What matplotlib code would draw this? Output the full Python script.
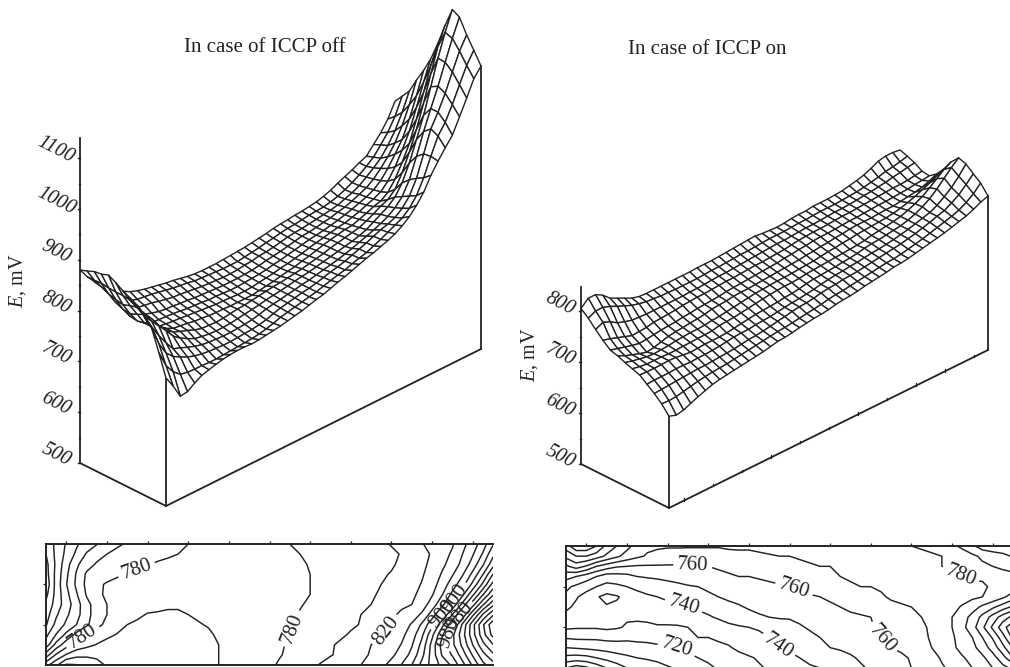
# -*- coding: utf-8 -*-
"""Potential surface E(x, y) with ICCP off / on: wire surface above, contour map below."""

import matplotlib
matplotlib.use("Agg")
import matplotlib.pyplot as plt
import numpy as np
from matplotlib.collections import PolyCollection

plt.rcParams["font.family"] = ["Liberation Serif", "DejaVu Serif"]
plt.rcParams["mathtext.fontset"] = "custom"
plt.rcParams["mathtext.it"] = "Liberation Serif:italic"
plt.rcParams["mathtext.rm"] = "Liberation Serif"

INK = "#222222"

# E, mV, on a 1/4 unit grid (45 x 13). Rows run from the far side (top of the map) to the near side.
e_off = [
    [895, 875, 858, 843, 830, 821, 811, 803, 798, 794, 791, 788, 785, 783, 780, 777, 775, 774, 774, 774, 775, 776, 777, 778, 780, 782, 784, 787, 789, 790, 792, 793, 795, 797, 801, 806, 813, 819, 825, 832, 838, 854, 870, 890, 918],
    [900, 875, 855, 836, 818, 807, 800, 795, 793, 791, 788, 785, 782, 780, 778, 775, 774, 773, 772, 771, 771, 771, 773, 775, 777, 780, 782, 785, 787, 788, 790, 792, 793, 794, 797, 801, 807, 814, 822, 832, 843, 860, 878, 902, 935],
    [906, 876, 848, 824, 808, 798, 793, 790, 788, 784, 781, 778, 777, 775, 773, 771, 770, 769, 768, 768, 769, 771, 772, 775, 776, 778, 781, 784, 786, 787, 789, 791, 793, 795, 798, 803, 808, 815, 825, 836, 848, 866, 888, 917, 952],
    [908, 874, 844, 818, 797, 792, 787, 782, 778, 776, 775, 773, 772, 770, 769, 768, 767, 766, 766, 766, 767, 768, 770, 773, 775, 777, 780, 783, 786, 787, 789, 792, 794, 798, 801, 806, 812, 818, 828, 842, 858, 878, 905, 939, 981],
    [913, 873, 841, 816, 795, 784, 778, 776, 775, 774, 772, 770, 769, 768, 766, 766, 765, 764, 764, 765, 766, 767, 769, 772, 774, 777, 780, 783, 786, 788, 790, 793, 796, 800, 804, 809, 814, 821, 832, 849, 870, 892, 925, 964, 1007],
    [905, 873, 846, 822, 798, 784, 777, 775, 773, 772, 770, 769, 767, 766, 764, 764, 763, 762, 762, 763, 765, 767, 769, 772, 774, 777, 780, 784, 787, 790, 793, 796, 798, 802, 806, 812, 817, 824, 838, 859, 885, 915, 955, 998, 1037],
    [896, 871, 850, 829, 806, 791, 780, 773, 771, 769, 766, 765, 763, 762, 762, 761, 761, 761, 761, 763, 765, 767, 770, 773, 775, 779, 782, 786, 790, 793, 796, 799, 800, 805, 810, 816, 820, 830, 849, 875, 905, 946, 992, 1037, 1075],
    [889, 863, 844, 827, 807, 790, 780, 774, 769, 763, 759, 758, 757, 758, 760, 762, 763, 765, 767, 769, 771, 772, 774, 776, 778, 781, 784, 787, 791, 794, 797, 800, 803, 809, 816, 824, 830, 843, 869, 902, 940, 985, 1035, 1082, 1117],
    [882, 854, 836, 820, 804, 786, 775, 767, 760, 757, 755, 754, 754, 755, 757, 759, 761, 763, 766, 768, 770, 772, 775, 777, 779, 782, 785, 788, 791, 794, 797, 801, 806, 814, 822, 830, 842, 863, 895, 934, 975, 1024, 1073, 1117, 1155],
    [865, 839, 815, 794, 775, 770, 764, 759, 755, 753, 752, 751, 751, 752, 753, 755, 758, 762, 765, 767, 770, 772, 775, 777, 780, 783, 786, 789, 793, 797, 802, 807, 812, 818, 825, 835, 850, 876, 915, 957, 995, 1032, 1072, 1112, 1147],
    [851, 813, 788, 774, 766, 759, 754, 751, 749, 748, 747, 747, 748, 749, 750, 752, 755, 760, 764, 767, 770, 773, 775, 778, 782, 786, 789, 793, 798, 803, 808, 814, 820, 824, 830, 841, 858, 886, 927, 969, 995, 1025, 1060, 1094, 1119],
    [810, 777, 758, 746, 743, 742, 742, 741, 741, 742, 743, 744, 745, 746, 748, 751, 755, 760, 763, 766, 769, 772, 775, 779, 783, 787, 790, 795, 799, 803, 809, 815, 822, 829, 836, 848, 866, 894, 929, 962, 982, 1010, 1042, 1073, 1096],
    [767, 744, 717, 719, 729, 737, 741, 745, 748, 750, 751, 751, 750, 751, 753, 755, 757, 760, 763, 766, 770, 774, 777, 782, 787, 791, 796, 801, 806, 810, 815, 820, 826, 835, 846, 861, 880, 906, 927, 946, 964, 993, 1023, 1054, 1072],
]

e_on = [
    [805, 818, 818, 810, 797, 790, 783, 776, 772, 771, 771, 771, 771, 771, 771, 771, 772, 772, 772, 773, 774, 775, 776, 777, 778, 776, 775, 774, 775, 777, 778, 778, 780, 780, 780, 781, 782, 785, 788, 792, 798, 805, 808, 808, 806],
    [793, 800, 800, 795, 788, 782, 776, 772, 769, 768, 766, 766, 765, 765, 765, 765, 766, 767, 767, 768, 769, 770, 770, 771, 772, 773, 773, 773, 774, 775, 775, 776, 777, 777, 777, 778, 779, 780, 782, 785, 788, 792, 794, 797, 801],
    [778, 785, 779, 770, 765, 761, 760, 759, 759, 759, 759, 759, 759, 760, 760, 761, 762, 763, 763, 764, 765, 766, 767, 768, 769, 770, 770, 771, 772, 773, 773, 774, 775, 776, 776, 777, 778, 780, 781, 783, 785, 788, 790, 793, 795],
    [764, 760, 755, 750, 745, 746, 747, 750, 751, 752, 753, 755, 756, 757, 757, 758, 759, 760, 760, 761, 762, 763, 763, 764, 765, 766, 768, 770, 771, 772, 772, 773, 774, 775, 775, 776, 777, 778, 779, 780, 781, 781, 782, 784, 786],
    [752, 748, 744, 740, 737, 738, 740, 742, 743, 744, 746, 747, 749, 750, 751, 752, 754, 755, 756, 757, 758, 759, 760, 761, 763, 764, 766, 767, 769, 770, 770, 771, 772, 773, 773, 774, 775, 776, 776, 777, 778, 779, 781, 782, 784],
    [748, 741, 736, 731, 727, 729, 733, 737, 739, 740, 742, 743, 745, 748, 749, 750, 752, 753, 753, 754, 755, 756, 757, 758, 759, 760, 762, 763, 765, 766, 768, 769, 771, 772, 772, 772, 773, 774, 774, 776, 778, 780, 783, 788, 795],
    [742, 738, 735, 732, 731, 732, 733, 735, 736, 737, 737, 738, 740, 741, 743, 745, 747, 749, 751, 752, 753, 754, 754, 755, 756, 757, 758, 760, 762, 763, 765, 766, 768, 769, 770, 771, 772, 774, 777, 781, 786, 792, 798, 805, 812],
    [737, 734, 732, 732, 732, 731, 731, 732, 732, 733, 733, 734, 737, 738, 739, 741, 743, 745, 747, 749, 750, 751, 751, 752, 754, 755, 756, 757, 758, 759, 760, 761, 763, 766, 768, 770, 772, 775, 780, 786, 793, 803, 814, 825, 833],
    [732, 731, 731, 731, 732, 731, 729, 727, 728, 729, 729, 729, 730, 732, 734, 736, 738, 739, 740, 741, 743, 744, 746, 749, 751, 752, 753, 754, 756, 757, 759, 762, 764, 765, 767, 769, 771, 775, 780, 787, 796, 808, 822, 836, 848],
    [721, 722, 722, 722, 723, 723, 722, 723, 723, 724, 725, 727, 729, 730, 730, 732, 733, 734, 736, 738, 740, 741, 743, 745, 748, 750, 752, 753, 755, 756, 758, 760, 761, 763, 765, 768, 771, 775, 779, 783, 790, 800, 811, 826, 843],
    [710, 711, 712, 713, 714, 715, 716, 716, 717, 718, 719, 720, 722, 724, 725, 727, 729, 732, 734, 737, 739, 740, 742, 745, 747, 748, 750, 751, 752, 754, 756, 758, 760, 762, 764, 767, 770, 774, 778, 783, 787, 795, 804, 817, 831],
    [697, 696, 697, 700, 703, 706, 708, 710, 711, 712, 714, 716, 718, 720, 722, 724, 726, 727, 729, 731, 733, 735, 737, 740, 742, 743, 745, 747, 749, 751, 753, 755, 756, 758, 761, 764, 767, 771, 775, 779, 783, 788, 796, 806, 820],
    [680, 675, 678, 684, 690, 695, 700, 703, 705, 707, 709, 711, 713, 715, 718, 721, 722, 724, 727, 729, 731, 732, 734, 737, 739, 740, 742, 745, 747, 749, 751, 754, 755, 757, 760, 763, 766, 769, 772, 776, 780, 784, 790, 797, 802],
]

ticks_off = [500, 600, 700, 800, 900, 1000, 1100]
minor_off = [550, 650, 750, 850, 950, 1050]
ticks_on = [500, 600, 700, 800]
minor_on = [550, 650, 750]

levels_off = list(range(700, 1180, 20))
levels_on = list(range(670, 860, 10))
shown_off = [780, 820, 860, 900, 940, 980]
shown_on = [720, 740, 760, 780]

# where the map labels sit, in map units (x from the left, y from the top)
anchors_off = [(2.2, 0.55), (0.83, 2.22), (6.13, 2.12), (8.43, 2.18), (9.7, 1.68), (10.1, 1.4), (10.1, 2.3), (10.5, 2.35)]
anchors_on = [(3.1, 0.6), (5.63, 1.0), (7.8, 2.25), (2.9, 1.45), (5.23, 2.45), (2.73, 2.5), (9.77, 0.6)]

OFF_PANEL = dict(x0=80, y0=463, ux=315, uy=-157, vx=86, vy=43, zs=0.508, surf0=515, top=1140)
ON_PANEL = dict(x0=581, y0=464, ux=319, uy=-158, vx=88, vy=44, zs=0.51, surf0=500, top=847)


def project(p, col, row, e, e0):
    """Oblique view: col 0..44 along the length, row 0..12 from far to near."""
    col, row, e = np.asarray(col, float), np.asarray(row, float), np.asarray(e, float)
    x = p["x0"] + col / 44 * p["ux"] + row / 12 * p["vx"]
    y = p["y0"] + col / 44 * p["uy"] + row / 12 * p["vy"] - p["zs"] * (e - e0)
    return x, y


def draw_surface(ax, p, table):
    z = np.array(table, float)
    nr, nc = z.shape
    cc, rr = np.meshgrid(np.arange(nc), np.arange(nr))
    px, py = project(p, cc, rr, z, p["surf0"])

    # box behind the mesh
    bx, by = project(p, [0, 0, 44], [0, 12, 12], [500, 500, 500], 500)
    ax.plot(bx, by, color=INK, lw=1.3, zorder=1)
    ax.plot(*project(p, [0, 0], [0, 0], [500, p["top"]], 500), color=INK, lw=1.3, zorder=1)
    for col in (0, 44):
        sx, sy = project(p, [col], [12], [z[12, col]], p["surf0"])
        fx, fy = project(p, [col], [12], [500], 500)
        ax.plot([fx[0], sx[0]], [fy[0], sy[0]], color=INK, lw=1.3, zorder=1)

    # far cells first so the nearer ones hide them
    polys = []
    for r in range(nr - 1):
        for c in range(nc - 2, -1, -1):
            polys.append([
                (px[r, c], py[r, c]),
                (px[r, c + 1], py[r, c + 1]),
                (px[r + 1, c + 1], py[r + 1, c + 1]),
                (px[r + 1, c], py[r + 1, c]),
            ])
    ax.add_collection(PolyCollection(polys, facecolors="white", edgecolors=INK, linewidths=1.0, zorder=2))


def draw_z_axis(ax, p, ticks, minor, dx, dy):
    for v in ticks + minor:
        x, y = project(p, [0], [0], [v], 500)
        size = 2.5 if v in ticks else 1.5
        ax.plot([x[0] - size, x[0]], [y[0], y[0]], color=INK, lw=1.0, zorder=1)
    for v in ticks:
        x, y = project(p, [0], [0], [v], 500)
        ax.text(x[0] + dx, y[0] + dy, str(v), rotation=-27, style="italic", fontsize=14.5,
                color=INK, ha="center", va="center")


def draw_map(fig, box, table, levels, shown, anchors, draw_bottom):
    left, top, width, height = box
    ax = fig.add_axes([left / 1010, (667 - top - height) / 667, width / 1010, height / 667])
    z = np.array(table, float)
    xs = np.arange(z.shape[1]) / 4
    ys = 3 - np.arange(z.shape[0]) / 4
    plain = [v for v in levels if v not in shown]
    ax.contour(xs, ys, z, levels=plain, colors=INK, linewidths=1.05)
    cs = ax.contour(xs, ys, z, levels=shown, colors=INK, linewidths=1.05)
    # manual clabel with a level subset trips over an index in matplotlib, so the labelled
    # levels get their own contour set
    ax.clabel(cs, fmt="%d", fontsize=15, inline=True, inline_spacing=4,
              manual=[(x, 3 - y) for x, y in anchors])
    ax.set_xlim(0, 11)
    ax.set_ylim(0, 3)
    ax.set_xticks(np.arange(0.5, 11, 1))
    ax.set_yticks([1, 2])
    ax.tick_params(top=True, bottom=False, left=True, right=False, direction="out", length=2.5,
                   width=0.9, color=INK, labelbottom=False, labelleft=False)
    for spine in ax.spines.values():
        spine.set_color(INK)
        spine.set_linewidth(1.4)
    ax.spines["right"].set_visible(False)
    ax.spines["bottom"].set_visible(draw_bottom)
    return ax


def main():
    fig = plt.figure(figsize=(10.1, 6.67), dpi=100)
    ax = fig.add_axes([0, 0, 1, 1])
    ax.set_xlim(0, 1010)
    ax.set_ylim(667, 0)
    ax.axis("off")

    draw_surface(ax, OFF_PANEL, e_off)
    draw_surface(ax, ON_PANEL, e_on)
    draw_z_axis(ax, OFF_PANEL, ticks_off, minor_off, -24, -8)
    draw_z_axis(ax, ON_PANEL, ticks_on, minor_on, -21, -7)

    # ticks on the near base edge of the right block
    for k in np.arange(0.5, 11, 1):
        x, y = project(ON_PANEL, [k * 4], [12], [500], 500)
        ax.plot([x[0], x[0]], [y[0], y[0] - 2.5], color=INK, lw=0.9, zorder=1)

    ax.text(265, 48, "In case of ICCP off", fontsize=15, color=INK, ha="center", va="center")
    ax.text(707, 49, "In case of ICCP on", fontsize=15, color=INK, ha="center", va="center")
    ax.text(18, 281, r"$\mathit{E}$, mV", fontsize=14.5, rotation=90, color=INK, ha="center", va="center")
    ax.text(530, 355, r"$\mathit{E}$, mV", fontsize=14.5, rotation=90, color=INK, ha="center", va="center")

    draw_map(fig, (46, 544, 447, 121), e_off, levels_off, shown_off, anchors_off, True)
    draw_map(fig, (566, 546, 447, 122), e_on, levels_on, shown_on, anchors_on, False)

    fig.savefig("out.png", dpi=100)
    plt.close(fig)


if __name__ == "__main__":
    main()
